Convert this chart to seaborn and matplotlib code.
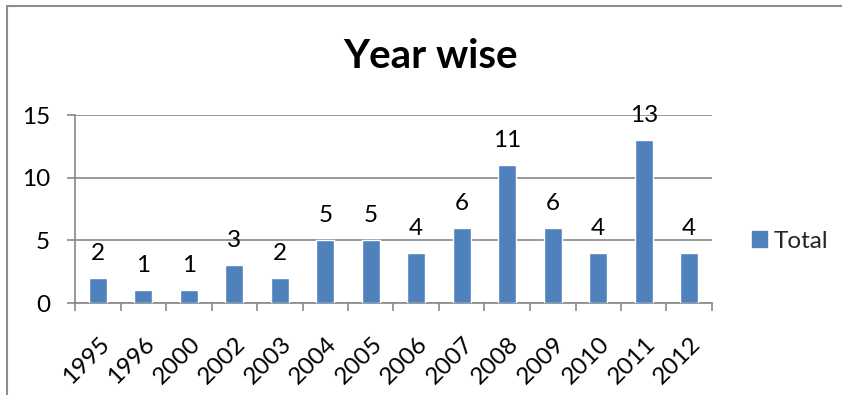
import matplotlib
matplotlib.use("Agg")
import matplotlib.pyplot as plt
import matplotlib.transforms as mtransforms
from matplotlib.lines import Line2D
from matplotlib.patches import Patch
import seaborn as sns
import pandas as pd

# Publications per year
years = ["1995", "1996", "2000", "2002", "2003", "2004", "2005",
         "2006", "2007", "2008", "2009", "2010", "2011", "2012"]
totals = [2, 1, 1, 3, 2, 5, 5, 4, 6, 11, 6, 4, 13, 4]
y_ticks = [0, 5, 10, 15]
series_name = "Total"
title = "Year wise"

bar_color = "#4F81BD"
grid_color = "#878787"
label_size = 17.5

sns.set_theme(style="white")
plt.rcParams["font.family"] = ["Lato", "DejaVu Sans"]

df = pd.DataFrame({"year": years, "total": totals})

fig = plt.figure(figsize=(8.42, 3.95), dpi=100)
ax = fig.add_axes([75 / 842, 1 - 303 / 395, (712 - 75) / 842, (303 - 115) / 395])

sns.barplot(data=df, x="year", y="total", color=bar_color, saturation=1,
            width=0.4, ax=ax, zorder=3)

ax.set_ylim(0, 15)
ax.set_xlim(-0.5, len(years) - 0.5)
ax.set_yticks(y_ticks)
ax.set_yticklabels([str(t) for t in y_ticks])
ax.yaxis.grid(True, color=grid_color, linewidth=1.2, zorder=0)
ax.set_axisbelow(True)
ax.set_xlabel("")
ax.set_ylabel("")

for side in ("top", "right"):
    ax.spines[side].set_visible(False)
for side in ("left", "bottom"):
    ax.spines[side].set_color(grid_color)
    ax.spines[side].set_linewidth(1.2)

# category boundary ticks on the x axis
ax.set_xticks([i - 0.5 for i in range(len(years) + 1)], minor=True)
ax.tick_params(axis="x", which="minor", length=5.8, width=1.2,
               color=grid_color, direction="out", bottom=True)
ax.tick_params(axis="x", which="major", length=0, pad=27, labelsize=label_size,
               labelcolor="black")
ax.tick_params(axis="y", which="major", length=5.8, width=1.2,
               color=grid_color, direction="out", left=True, pad=12,
               labelsize=label_size, labelcolor="black")

offset = mtransforms.ScaledTranslation(6 / 72, 0, fig.dpi_scale_trans)
for lbl in ax.get_xticklabels():
    lbl.set_rotation(45)
    lbl.set_ha("right")
    lbl.set_va("center")
    lbl.set_rotation_mode("anchor")
    lbl.set_transform(lbl.get_transform() + offset)

# value labels above the bars
for i, v in enumerate(totals):
    ax.annotate(str(v), xy=(i, v), xytext=(0, 13), textcoords="offset points",
                ha="center", va="baseline", fontsize=label_size, color="black")

fig.text(430 / 842, 1 - 68 / 395, title, ha="center", va="baseline",
         fontsize=29, fontweight="bold", color="black")

fig.legend(handles=[Patch(facecolor=bar_color, edgecolor=bar_color)],
           labels=[series_name], loc="center left",
           bbox_to_anchor=(752 / 842, 1 - 241 / 395), frameon=False,
           fontsize=label_size, handlelength=0.62, handleheight=0.62,
           handletextpad=0.25, borderpad=0, borderaxespad=0)

# chart frame edges
fig.add_artist(Line2D([7 / 842, 7 / 842], [0, 1 - 6 / 395],
                      transform=fig.transFigure, color="#8c8c8c", linewidth=1.5))
fig.add_artist(Line2D([7 / 842, 1], [1 - 6 / 395, 1 - 6 / 395],
                      transform=fig.transFigure, color="#8c8c8c", linewidth=1.5))

fig.savefig("out.png", dpi=100)
